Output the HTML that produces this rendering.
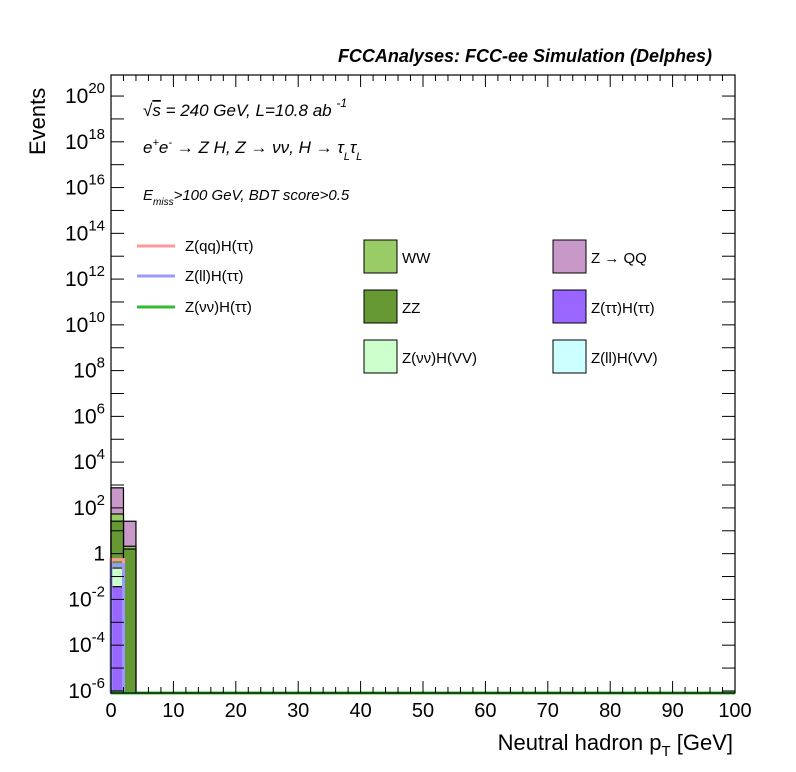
<!DOCTYPE html>
<html><head><meta charset="utf-8"><style>
body{margin:0;background:#fff;}
svg{display:block;font-family:"Liberation Sans",sans-serif;}
</style></head><body>
<svg id="c" width="796" height="772" viewBox="0 0 796 772">
<rect x="0" y="0" width="796" height="772" fill="#fff"/>
<text x="712" y="62" text-anchor="end" font-size="18" font-weight="bold" font-style="italic">FCCAnalyses: FCC-ee Simulation (Delphes)</text>
<g id="plot"></g>
<g font-style="italic" font-size="17">
<text x="143" y="116">√<tspan text-decoration="overline">s</tspan> = 240 GeV, L=10.8 ab <tspan dy="-9" font-size="12">-1</tspan></text>
<text x="143" y="153">e<tspan dy="-7" font-size="11">+</tspan><tspan dy="7">e</tspan><tspan dy="-7" font-size="11">-</tspan><tspan dy="7"> → Z H, Z  → νν, H → τ</tspan><tspan dy="7" font-size="11">L</tspan><tspan dy="-7">τ</tspan><tspan dy="7" font-size="11">L</tspan></text>
<text x="143" y="200" font-size="15">E<tspan dy="5" font-size="10">miss</tspan><tspan dy="-5">&gt;100 GeV, BDT score&gt;0.5</tspan></text>
</g>
<g id="legend" font-size="15"></g>
<text x="733" y="750" text-anchor="end" font-size="22">Neutral hadron p<tspan dy="6" font-size="15">T</tspan><tspan dy="-6"> [GeV]</tspan></text>
<text transform="translate(45,155) rotate(-90)" font-size="22">Events</text>
</svg>
<script>
const binEdges=[0,2,4,6,8,10,12,14,16,18,20];
const stackNames=["Z(ττ)H(ττ)","Z(νν)H(VV)","Z(ll)H(VV)","ZZ","WW","Z → QQ"];
const zttHtt=[0.036,0];
const zvvHVV=[0.2,0];
const zllHVV=[0.06,0];
const zz=[26,1.6];
const ww=[28,0.5];
const zqq=[700,24];
const lineZqqHtt=[0.55,0];
const lineZllHtt=[0.33,0];
const lineZvvHtt=[0,0];
const xTicks=[0,10,20,30,40,50,60,70,80,90,100];
const yTickExp=[-6,-4,-2,0,2,4,6,8,10,12,14,16,18,20];

const NS="http://www.w3.org/2000/svg";
const X0=111,X1=735,Y0=75,Y1=693;
const xmin=0,xmax=100,lmin=-6.09,lmax=20.92;
function xs(v){return X0+(v-xmin)/(xmax-xmin)*(X1-X0);}
function ys(v){if(v<=0)return Y1;let l=Math.log10(v);l=Math.max(lmin,Math.min(lmax,l));return Y1-(l-lmin)/(lmax-lmin)*(Y1-Y0);}
const plot=document.getElementById('plot');
function mk(t,a,p){const e=document.createElementNS(NS,t);for(const k in a)e.setAttribute(k,a[k]);(p||plot).appendChild(e);return e;}

const stacks=[zttHtt,zvvHVV,zllHVV,zz,ww,zqq];
const colors=["#9966ff","#ccffcc","#ccffff","#669933","#99cc66","#c899c8"];
const keys=["zttHtt","zvvHVV","zllHVV","zz","ww","zqq"];
// cumulative, draw from top down
const nb=zz.length;
const cum=[];let run=new Array(nb).fill(0);
for(let s=0;s<stacks.length;s++){run=run.map((r,i)=>r+stacks[s][i]);cum.push(run.slice());}
for(let s=stacks.length-1;s>=0;s--){
  for(let i=0;i<nb;i++){
    const v=cum[s][i];if(v<=0)continue;
    const x=xs(binEdges[i]),w=xs(binEdges[i+1])-x,y=ys(v);
    const r=mk('rect',{x:x,y:y,width:w,height:Y1-y,fill:colors[s],stroke:"#000","stroke-width":1.2});
    
    
  }
}
const lines=[[lineZqqHtt,"#ff9999","line-zqq-htt"],[lineZllHtt,"#9999ff","line-zll-htt"],[lineZvvHtt,"#33bb33","line-zvv-htt"]];
for(const [arr,col,nm] of lines){
  let d="M"+xs(binEdges[0])+","+Y1;
  for(let i=0;i<binEdges.length-1;i++){
    const v=i<arr.length?arr[i]:0;
    d+=" L"+xs(binEdges[i])+","+ys(v)+" L"+xs(binEdges[i+1])+","+ys(v);
  }
  d+=" L"+xs(xmax)+","+Y1;
  const p=mk('path',{d:d,fill:"none",stroke:col,"stroke-width":3});
  
  
}
mk('rect',{x:X0,y:Y0,width:X1-X0,height:Y1-Y0,fill:"none",stroke:"#000","stroke-width":1.2});
// x ticks
for(let v=0;v<=100;v+=2){
  const L=v%10===0?12:6;
  mk('line',{x1:xs(v),x2:xs(v),y1:Y1,y2:Y1-L,stroke:"#000"});
  mk('line',{x1:xs(v),x2:xs(v),y1:Y0,y2:Y0+L,stroke:"#000"});
}
for(const v of xTicks){
  const t=mk('text',{x:xs(v),y:Y1+24,"text-anchor":"middle","font-size":20});t.textContent=v;
  
  
}
for(let e=-6;e<=20;e++){
  const y=ys(Math.pow(10,e));
  mk('line',{x1:X0,x2:X0+13,y1:y,y2:y,stroke:"#000"});
  mk('line',{x1:X1,x2:X1-13,y1:y,y2:y,stroke:"#000"});
}
for(const e of yTickExp){
  const y=ys(Math.pow(10,e));
  const t=mk('text',{x:X0-6,y:y+7,"text-anchor":"end","font-size":21});
  
  
  if(e===0)t.textContent="1";
  else if(e===2||e===-2&&false)t.textContent="";
  if(e!==0){t.innerHTML='10<tspan dy="-10" font-size="15">'+e+'</tspan>';}
}
// legend
const lg=document.getElementById('legend');
const lineLeg=[["Z(qq)H(ττ)","#ff9999",246],["Z(ll)H(ττ)","#9999ff",276],["Z(νν)H(ττ)","#33bb33",307]];
for(const [n,c,y] of lineLeg){
  const g=mk('g',{},lg);
  
  
  mk('line',{x1:137,x2:175,y1:y,y2:y,stroke:c,"stroke-width":3},g);
  const t=mk('text',{x:185,y:y+5},g);t.textContent=n;
}
const boxLeg=[["WW","#99cc66",364,240],["ZZ","#669933",364,290],["Z(νν)H(VV)","#ccffcc",364,340],["Z → QQ","#c899c8",553,240],["Z(ττ)H(ττ)","#9966ff",553,290],["Z(ll)H(VV)","#ccffff",553,340]];
for(const [n,c,x,y] of boxLeg){
  const g=mk('g',{},lg);
  
  
  mk('rect',{x:x,y:y,width:33,height:33,fill:c,stroke:"#000","stroke-width":1},g);
  const t=mk('text',{x:x+38,y:y+23},g);t.textContent=n;
}
</script>
</body></html>
